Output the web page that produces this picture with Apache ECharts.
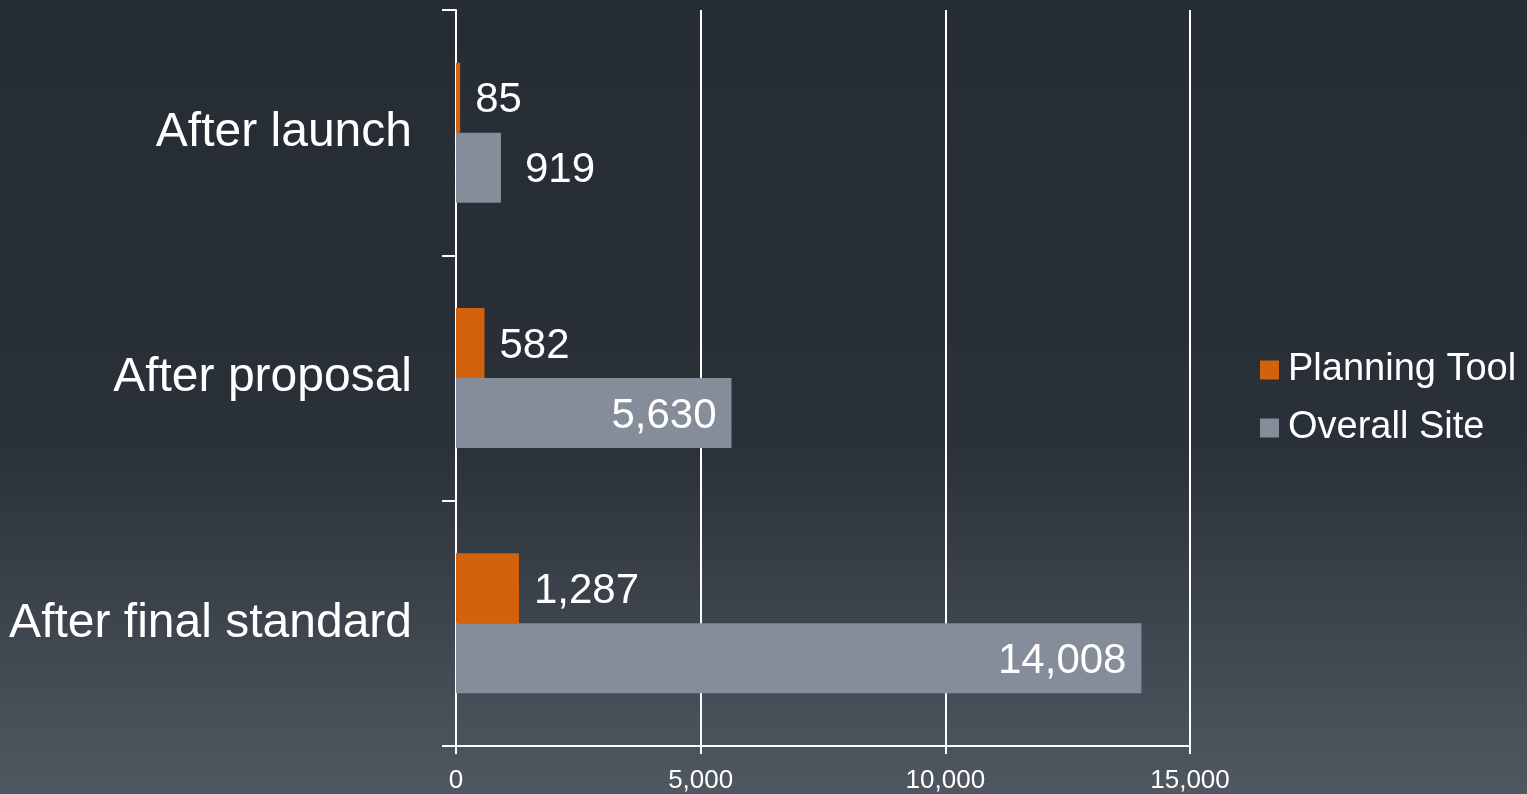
<!DOCTYPE html>
<html>
<head>
<meta charset="utf-8">
<title>Planning Tool vs Overall Site</title>
<script src="https://cdn.jsdelivr.net/npm/echarts@6/dist/echarts.min.js"></script>
<style>
  html, body { margin: 0; padding: 0; }
  #chart { width: 1527px; height: 794px; }
</style>
</head>
<body>
<div id="chart"></div>
<script>
// Stages shown on the category axis, top to bottom
const categories = ['After launch', 'After proposal', 'After final standard'];
// Counts per stage
const planningTool = [85, 582, 1287];
const overallSite = [919, 5630, 14008];
// Value axis ticks
const xTicks = [0, 5000, 10000, 15000];

const ORANGE = '#d2620c';
const GRAY = '#858d9a';
const WHITE = '#ffffff';
const FONT = '"Liberation Sans", Arial, Helvetica, sans-serif';

const fmt = v => Number(v).toLocaleString('en-US');

// Bars too short to hold their number get the label outside
const overallData = overallSite.map(v => (
  v < 2000
    ? { value: v, label: { position: 'right', distance: 24 } }
    : { value: v }
));

const chart = echarts.init(document.getElementById('chart'), null, { renderer: 'canvas' });

chart.setOption({
  animation: false,
  backgroundColor: {
    type: 'linear', x: 0, y: 0, x2: 0, y2: 1,
    colorStops: [
      { offset: 0, color: '#262c33' },
      { offset: 0.55, color: '#2a3038' },
      { offset: 1, color: '#4f5861' }
    ]
  },
  textStyle: { fontFamily: FONT },
  grid: { left: 456, right: 337, top: 10, bottom: 46, containLabel: false },
  legend: {
    orient: 'vertical',
    left: 1260,
    top: 351,
    padding: 0,
    itemWidth: 19,
    itemHeight: 19,
    itemGap: 20,
    icon: 'rect',
    textStyle: { color: WHITE, fontSize: 38, fontFamily: FONT, padding: [0, 0, 0, 4] },
    data: ['Planning Tool', 'Overall Site']
  },
  xAxis: {
    type: 'value',
    min: xTicks[0],
    max: xTicks[xTicks.length - 1],
    interval: xTicks[1] - xTicks[0],
    axisLine: { show: true, lineStyle: { color: WHITE, width: 2 } },
    axisTick: { show: true, length: 8, lineStyle: { color: WHITE, width: 2 } },
    splitLine: { show: true, lineStyle: { color: WHITE, width: 2 } },
    axisLabel: { color: WHITE, fontSize: 26, margin: 22, fontFamily: FONT, formatter: fmt }
  },
  yAxis: {
    type: 'category',
    inverse: true,
    data: categories,
    axisLine: { show: true, lineStyle: { color: WHITE, width: 2 } },
    axisTick: { show: true, length: 14, lineStyle: { color: WHITE, width: 2 } },
    splitLine: { show: false },
    axisLabel: { color: WHITE, fontSize: 48, margin: 44, fontFamily: FONT, padding: [8, 0, 0, 0] }
  },
  series: [
    {
      name: 'Planning Tool',
      type: 'bar',
      data: planningTool,
      barWidth: 70,
      barGap: '0%',
      itemStyle: { color: ORANGE },
      label: {
        show: true,
        position: 'right',
        distance: 15,
        offset: [0, 3],
        color: WHITE,
        fontSize: 42,
        fontFamily: FONT,
        formatter: p => fmt(p.value)
      }
    },
    {
      name: 'Overall Site',
      type: 'bar',
      data: overallData,
      barWidth: 70,
      barGap: '0%',
      itemStyle: { color: GRAY },
      label: {
        show: true,
        position: 'insideRight',
        distance: 15,
        offset: [0, 3],
        color: WHITE,
        fontSize: 42,
        fontFamily: FONT,
        formatter: p => fmt(p.value)
      }
    }
  ]
});
</script>
</body>
</html>
